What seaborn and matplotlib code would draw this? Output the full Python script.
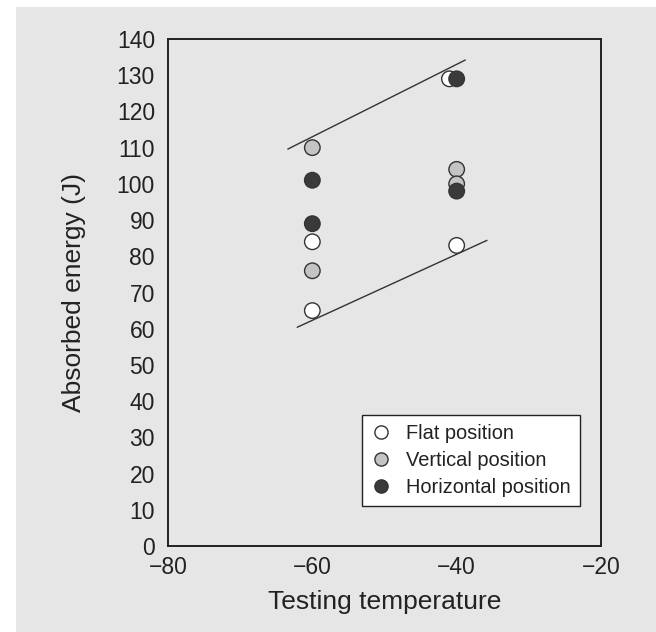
import matplotlib
matplotlib.use("Agg")
import matplotlib.pyplot as plt
import seaborn as sns
import pandas as pd
from matplotlib.patches import Rectangle
from matplotlib.ticker import MultipleLocator

# Data
flat_x = [-60, -60, -41, -40]
flat_y = [84, 65, 129, 83]
vert_x = [-60, -60, -40, -40]
vert_y = [110, 76, 104, 100]
horiz_x = [-60, -60, -40, -40]
horiz_y = [101, 89, 129, 98]
series_names = ["Flat position", "Vertical position", "Horizontal position"]
series_colors = ["#ffffff", "#c4c4c4", "#3a3a3a"]

upper_line_x = [-63.4, -38.8]
upper_line_y = [109.6, 134.2]
lower_line_x = [-62.1, -35.8]
lower_line_y = [60.4, 84.4]

df = pd.DataFrame({
    "x": flat_x + vert_x + horiz_x,
    "y": flat_y + vert_y + horiz_y,
    "series": [series_names[0]] * len(flat_x) + [series_names[1]] * len(vert_x) + [series_names[2]] * len(horiz_x),
})

sns.set_style("white")
plt.rcParams["font.family"] = ["Liberation Sans", "DejaVu Sans"]

fig = plt.figure(figsize=(6.56, 6.32), dpi=100)
fig.patch.set_facecolor("white")
fig.patches.append(Rectangle((16 / 656, 0), 1 - 16 / 656, 1 - 7 / 632,
                             transform=fig.transFigure, facecolor="#e6e6e6",
                             edgecolor="none", zorder=-10))
ax = fig.add_axes([168 / 656, 1 - 546 / 632, 433 / 656, 507 / 632])
ax.set_facecolor("#e6e6e6")

ax.plot(upper_line_x, upper_line_y, color="#333333", lw=1.0, zorder=1)
ax.plot(lower_line_x, lower_line_y, color="#333333", lw=1.0, zorder=1)

sns.scatterplot(data=df, x="x", y="y", hue="series", hue_order=series_names,
                palette=dict(zip(series_names, series_colors)), s=125,
                edgecolor="#333333", linewidth=1.0, ax=ax, zorder=3)

ax.set_xlim(-80, -20)
ax.set_ylim(0, 140)
ax.xaxis.set_major_locator(MultipleLocator(20))
ax.xaxis.set_minor_locator(MultipleLocator(10))
ax.yaxis.set_major_locator(MultipleLocator(10))
ax.tick_params(axis="both", which="major", direction="in", length=9.4, width=1.0,
               labelsize=16.5, colors="#222222")
ax.tick_params(axis="y", which="major", pad=9.4)
ax.tick_params(axis="x", which="major", pad=7)
ax.tick_params(axis="x", which="minor", direction="in", length=5, width=1.0, color="#222222")
for sp in ax.spines.values():
    sp.set_visible(True)
    sp.set_linewidth(1.4)
    sp.set_color("#222222")

ax.set_xlabel("Testing temperature", fontsize=19, color="#222222", labelpad=8)
ax.set_ylabel("Absorbed energy (J)", fontsize=19, color="#222222", labelpad=22)

leg = ax.legend(loc="lower right", bbox_to_anchor=(0.951, 0.079), borderaxespad=0,
                fontsize=14.4, frameon=True, fancybox=False, edgecolor="#222222",
                framealpha=1, handletextpad=0.8, borderpad=0.45, labelspacing=0.4,
                markerscale=0.85, handlelength=0.95)
leg.get_frame().set_linewidth(1.0)
for t in leg.get_texts():
    t.set_color("#222222")

fig.savefig("out.png", dpi=100, facecolor=fig.get_facecolor())
